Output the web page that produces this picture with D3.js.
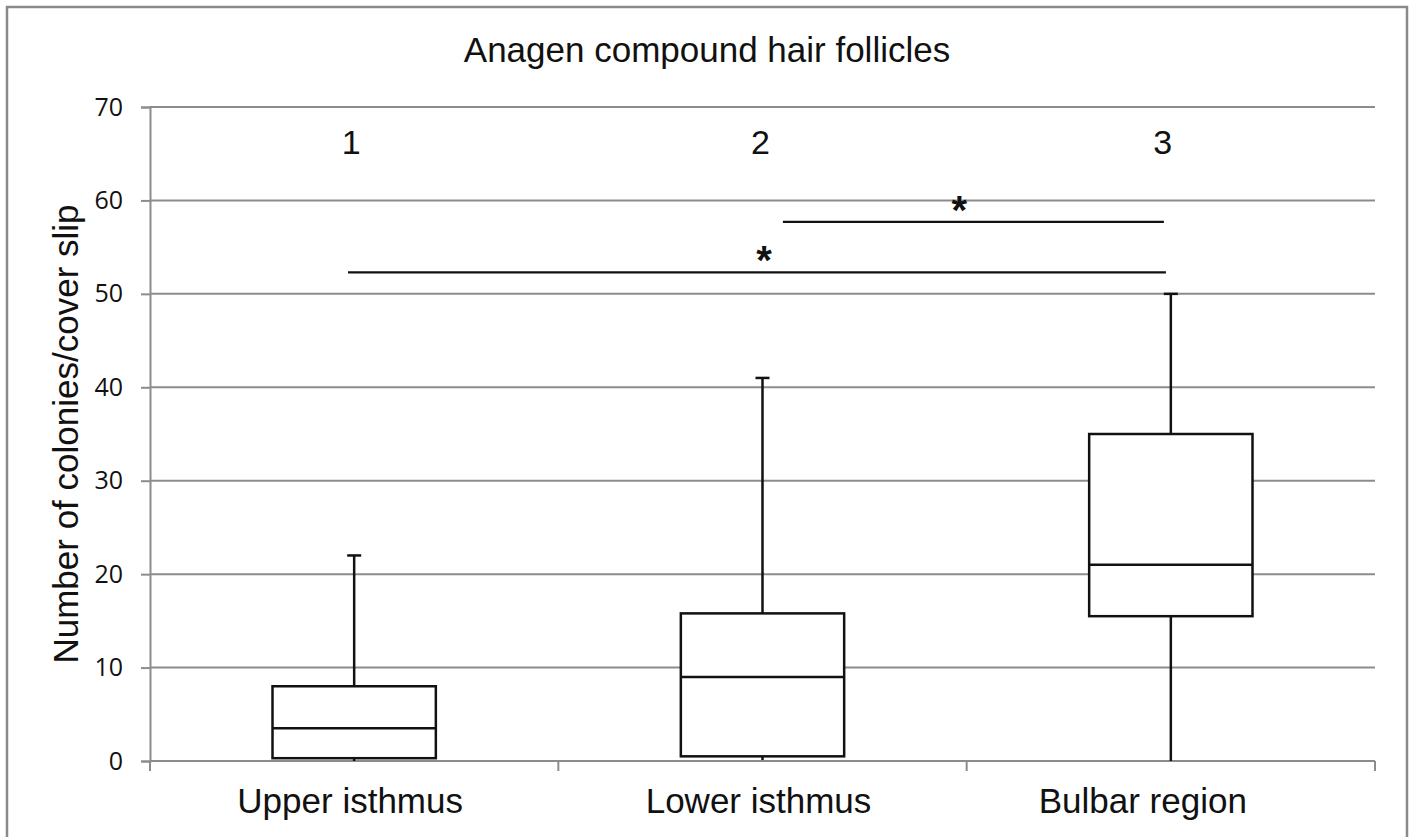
<!DOCTYPE html>
<html>
<head>
<meta charset="utf-8">
<script src="https://cdn.jsdelivr.net/npm/d3@7"></script>
<style>
  html, body { margin: 0; padding: 0; background: #fff; }
  svg { display: block; }
</style>
</head>
<body>
<div id="chart"></div>
<script>
// box plot data
const categories = ["Upper isthmus", "Lower isthmus", "Bulbar region"];
const groupNumbers = ["1", "2", "3"];
const mins = [0, 0.1, 0];
const q1s = [0.3, 0.5, 15.5];
const medians = [3.5, 9, 21];
const q3s = [8, 15.8, 35];
const maxs = [22, 41, 50];
const yTicks = [0, 10, 20, 30, 40, 50, 60, 70];

// significance bars: from/to are category index + offset in band units
const sigFrom = [-0.015, 1.05];
const sigTo = [1.988, 1.983];
const sigValues = [52.3, 57.7];
const sigLabels = ["*", "*"];

const width = 1411, height = 837;
const margin = { top: 107, right: 36, bottom: 76, left: 150 };

const svg = d3.select("#chart").append("svg")
  .attr("width", width)
  .attr("height", height);

// outer frame of the chart
svg.append("rect")
  .attr("x", 7).attr("y", 7)
  .attr("width", 1400).attr("height", 900)
  .attr("fill", "none")
  .attr("stroke", "#8a8a8a")
  .attr("stroke-width", 2.5);

const x = d3.scaleBand()
  .domain(categories)
  .range([margin.left, width - margin.right])
  .padding(0);

const y = d3.scaleLinear()
  .domain([0, 70])
  .range([height - margin.bottom, margin.top]);

const bw = x.bandwidth();
const cx = i => x(categories[i]) + bw / 2;
const gridColor = "#8c8c8c";

// gridlines
svg.append("g")
  .selectAll("line")
  .data(yTicks)
  .join("line")
  .attr("x1", margin.left)
  .attr("x2", width - margin.right)
  .attr("y1", d => y(d))
  .attr("y2", d => y(d))
  .attr("stroke", gridColor)
  .attr("stroke-width", 2);

// y axis
const yAxis = svg.append("g")
  .attr("transform", `translate(${margin.left},0)`)
  .call(d3.axisLeft(y).tickValues(yTicks).tickSize(9).tickPadding(18));
yAxis.select(".domain").attr("stroke", gridColor).attr("stroke-width", 2);
yAxis.selectAll(".tick line").attr("stroke", gridColor).attr("stroke-width", 2);
yAxis.selectAll(".tick text")
  .attr("font-family", "'Open Sans', sans-serif")
  .attr("font-size", 25)
  .attr("fill", "#111");

// x axis: boundary ticks between categories
const bounds = categories.map(c => x(c)).concat([x.range()[1]]);
svg.append("g")
  .selectAll("line")
  .data(bounds)
  .join("line")
  .attr("x1", d => d).attr("x2", d => d)
  .attr("y1", y(0)).attr("y2", y(0) + 10)
  .attr("stroke", gridColor)
  .attr("stroke-width", 2);

// category labels sit a little left of the box centres in the original
const labelShift = [-4, -4, -28];
svg.append("g")
  .selectAll("text")
  .data(categories)
  .join("text")
  .attr("x", (d, i) => x(d) + bw / 2 + labelShift[i])
  .attr("y", 813)
  .attr("text-anchor", "middle")
  .attr("font-family", "'Liberation Sans', Arial, sans-serif")
  .attr("font-size", 35)
  .attr("fill", "#111")
  .text(d => d);

// boxes
const boxW = bw * 0.4;
const capW = 14;
const boxes = svg.append("g")
  .selectAll("g")
  .data(categories)
  .join("g");

boxes.append("line")
  .attr("x1", (d, i) => cx(i)).attr("x2", (d, i) => cx(i))
  .attr("y1", (d, i) => y(maxs[i])).attr("y2", (d, i) => y(q3s[i]))
  .attr("stroke", "#111").attr("stroke-width", 2.5);
boxes.append("line")
  .attr("x1", (d, i) => cx(i) - capW / 2).attr("x2", (d, i) => cx(i) + capW / 2)
  .attr("y1", (d, i) => y(maxs[i])).attr("y2", (d, i) => y(maxs[i]))
  .attr("stroke", "#111").attr("stroke-width", 2.5);
boxes.append("line")
  .attr("x1", (d, i) => cx(i)).attr("x2", (d, i) => cx(i))
  .attr("y1", (d, i) => y(q1s[i])).attr("y2", (d, i) => y(mins[i]))
  .attr("stroke", "#111").attr("stroke-width", 2.5);
boxes.append("rect")
  .attr("x", (d, i) => cx(i) - boxW / 2)
  .attr("width", boxW)
  .attr("y", (d, i) => y(q3s[i]))
  .attr("height", (d, i) => y(q1s[i]) - y(q3s[i]))
  .attr("fill", "#fff")
  .attr("stroke", "#111").attr("stroke-width", 2.5);
boxes.append("line")
  .attr("x1", (d, i) => cx(i) - boxW / 2).attr("x2", (d, i) => cx(i) + boxW / 2)
  .attr("y1", (d, i) => y(medians[i])).attr("y2", (d, i) => y(medians[i]))
  .attr("stroke", "#111").attr("stroke-width", 2.5);

// group numbers above boxes
const numShift = [-3, -2, -8];
svg.append("g")
  .selectAll("text")
  .data(groupNumbers)
  .join("text")
  .attr("x", (d, i) => cx(i) + numShift[i])
  .attr("y", 154)
  .attr("text-anchor", "middle")
  .attr("font-family", "'Liberation Sans', Arial, sans-serif")
  .attr("font-size", 34)
  .attr("fill", "#111")
  .text(d => d);

// significance bars
const xAt = v => cx(0) + v * bw;
const starShift = [7, -14];
const sig = svg.append("g")
  .selectAll("g")
  .data(sigValues)
  .join("g");
sig.append("line")
  .attr("x1", (d, i) => xAt(sigFrom[i]))
  .attr("x2", (d, i) => xAt(sigTo[i]))
  .attr("y1", d => y(d)).attr("y2", d => y(d))
  .attr("stroke", "#111").attr("stroke-width", 2.2);
sig.append("text")
  .attr("x", (d, i) => (xAt(sigFrom[i]) + xAt(sigTo[i])) / 2 + starShift[i])
  .attr("y", d => y(d) + 2)
  .attr("text-anchor", "middle")
  .attr("font-family", "'Liberation Sans', Arial, sans-serif")
  .attr("font-size", 40)
  .attr("font-weight", "bold")
  .attr("fill", "#111")
  .text((d, i) => sigLabels[i]);

// title
svg.append("text")
  .attr("x", 707)
  .attr("y", 62)
  .attr("text-anchor", "middle")
  .attr("font-family", "'Liberation Sans', Arial, sans-serif")
  .attr("font-size", 35)
  .attr("fill", "#111")
  .text("Anagen compound hair follicles");

// y axis title
svg.append("text")
  .attr("transform", `translate(78,${(y(0) + y(70)) / 2}) rotate(-90)`)
  .attr("text-anchor", "middle")
  .attr("font-family", "'Liberation Sans', Arial, sans-serif")
  .attr("font-size", 35)
  .attr("fill", "#111")
  .text("Number of colonies/cover slip");
</script>
</body>
</html>
